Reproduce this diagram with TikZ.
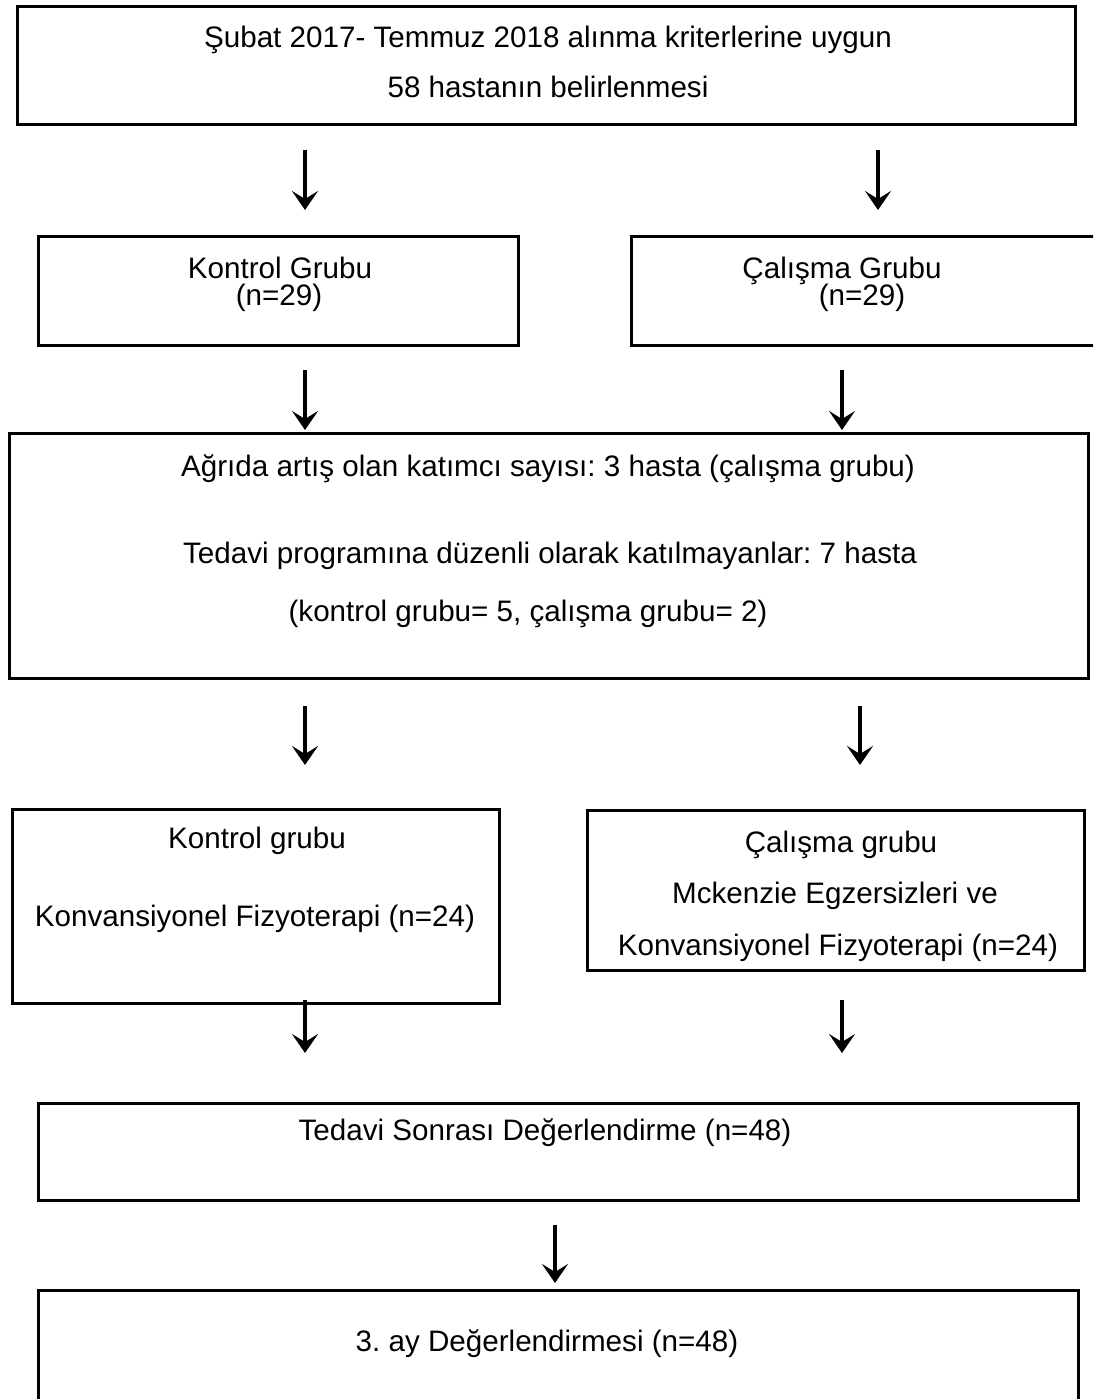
\documentclass[tikz,border=0pt]{standalone}
\usepackage{fontspec}
\setmainfont{Liberation Sans}
\usetikzlibrary{arrows.meta}
\frenchspacing
\begin{document}
\begin{tikzpicture}[x=1pt,y=-1pt,
  boxline/.style={draw=black, line width=3pt},
  txt/.style={inner sep=0pt, anchor=base, font=\fontsize{29.6}{35}\selectfont},
  arr/.style={line width=3.2pt, -{Stealth[length=19pt,width=26pt,inset=8pt]}}]
\useasboundingbox (0,0) rectangle (1093,1399);
\clip (0,0) rectangle (1093,1399);
% boxes
\draw[boxline] (17,7) rectangle (1075,125);
\draw[boxline] (38,236) rectangle (518,345);
\draw[boxline] (631,236) rectangle (1110,345);
\draw[boxline] (9,433) rectangle (1088,678);
\draw[boxline] (12,809) rectangle (499,1003);
\draw[boxline] (587,810) rectangle (1084,970);
\draw[boxline] (38,1103) rectangle (1078,1200);
\draw[boxline] (38,1290) rectangle (1078,1420);
% texts
\node[txt] (t1) at (548,48) {Şubat 2017- Temmuz 2018 alınma kriterlerine uygun};
\node[txt] (t2) at (548,98) {58 hastanın belirlenmesi};
\node[txt] (t3) at (280,278) {Kontrol Grubu};
\node[txt] (t4) at (279,305) {(n=29)};
\node[txt] (t5) at (842,278) {Çalışma Grubu};
\node[txt] (t6) at (862,305) {(n=29)};
\node[txt] (t7) at (548,476) {Ağrıda artış olan katımcı sayısı: 3 hasta (çalışma grubu)};
\node[txt] (t8) at (550,563) {Tedavi programına düzenli olarak katılmayanlar: 7 hasta};
\node[txt] (t9) at (528,621) {(kontrol grubu= 5, çalışma grubu= 2)};
\node[txt] (t10) at (257,848) {Kontrol grubu};
\node[txt] (t11) at (255,926) {Konvansiyonel Fizyoterapi (n=24)};
\node[txt] (t12) at (841,852) {Çalışma grubu};
\node[txt] (t13) at (835,903) {Mckenzie Egzersizleri ve};
\node[txt] (t14) at (838,955) {Konvansiyonel Fizyoterapi (n=24)};
\node[txt] (t15) at (545,1140) {Tedavi Sonrası Değerlendirme (n=48)};
\node[txt] (t16) at (547,1351) {3. ay Değerlendirmesi (n=48)};
% arrows
\coordinate (a1s) at (305,150); \coordinate (a1e) at (305,210);
\coordinate (a2s) at (878,150); \coordinate (a2e) at (878,210);
\coordinate (a3s) at (305,370); \coordinate (a3e) at (305,430);
\coordinate (a4s) at (842,370); \coordinate (a4e) at (842,430);
\coordinate (a5s) at (305,706); \coordinate (a5e) at (305,765);
\coordinate (a6s) at (860,706); \coordinate (a6e) at (860,765);
\coordinate (a7s) at (305,1000); \coordinate (a7e) at (305,1053);
\coordinate (a8s) at (842,1000); \coordinate (a8e) at (842,1053);
\coordinate (a9s) at (555,1225); \coordinate (a9e) at (555,1283);
\foreach \i in {1,...,9} {\draw[arr] (a\i s) -- (a\i e);}
\end{tikzpicture}
\end{document}
